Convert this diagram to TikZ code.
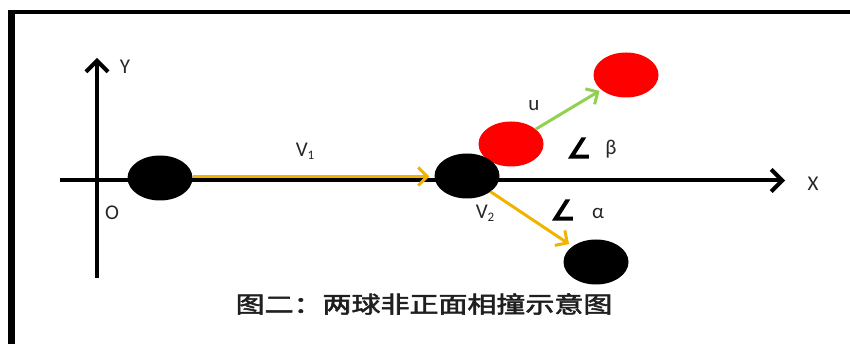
\documentclass[tikz,border=0pt]{standalone}
\usepackage{fontspec}
\setmainfont{Carlito}
\newfontfamily\djv{DejaVu Sans}[AutoFakeBold=5]
\newfontfamily\cjk{Noto Sans CJK SC}[AutoFakeBold=2.2]
\usetikzlibrary{arrows.meta,shapes.geometric}
\definecolor{vyellow}{RGB}{240,180,0}
\definecolor{ugreen}{RGB}{146,208,80}
\definecolor{bred}{RGB}{255,0,0}
\tikzset{
  ball/.style={ellipse,minimum width=65pt,minimum height=45pt,inner sep=0pt},
  blackball/.style={ball,fill=black},
  redball/.style={ball,fill=bred},
  axis/.style={line width=4pt,-{Straight Barb[length=11pt,width=22pt,line width=4pt]}},
  vel/.style={line width=3pt,color=vyellow,-{Straight Barb[length=9pt,width=18pt,line width=3pt]}},
  uvel/.style={line width=3pt,color=ugreen,-{Straight Barb[length=9pt,width=18pt,line width=3pt]}},
  lbl/.style={font=\fontsize{21}{21}\selectfont,text=black!85,inner sep=0pt},
  ang/.style={font=\djv\bfseries\fontsize{27}{27}\selectfont,inner sep=0pt},
}
\begin{document}
\begin{tikzpicture}[x=1pt,y=-1pt]
\useasboundingbox (0,0) rectangle (850,344);
% frame
\draw[line width=7pt] (11,344) -- (11,12);
\draw[line width=4.5pt] (8,12) -- (850,12);
% axes
\coordinate (xs) at (60,180.5);
\coordinate (xe) at (785,180.5);
\coordinate (ys) at (97,278);
\coordinate (ye) at (97,58);
\draw[axis] (xs) -- (xe);
\draw[axis] (ys) -- (ye);
\node[lbl] (ylab) at (125,67) {Y};
\node[lbl] (xlab) at (813,184) {X};
\node[lbl] (olab) at (112,213) {O};
% balls
\node[redball] (r1) at (511,144) {};
\node[redball] (r2) at (626,75) {};
\node[blackball] (b1) at (160,178) {};
\node[blackball] (b2) at (467,176) {};
\node[blackball] (b3) at (596,262) {};
% velocities
\draw[vel,shorten >=5pt] ([yshift=1.5pt]b1.east) -- ([yshift=-0.5pt]b2.west);
\draw[vel,shorten >=4pt] (b2) -- (b3);
\draw[uvel,shorten >=2pt] (r1) -- (r2);
% labels
\node[lbl] (v1) at (305,151) {V\raisebox{-0.3ex}{\fontsize{13}{13}\selectfont 1}};
\node[lbl] (v2) at (485,213) {V\raisebox{-0.3ex}{\fontsize{13}{13}\selectfont 2}};
\node[lbl] (ulab) at (534,106) {u};
\node[ang] (angb) at (579,148) {∠};
\node[lbl] (beta) at (611,149) {β};
\node[ang] (anga) at (563,210) {∠};
\node[lbl] (alpha) at (598,213) {α};
% caption
\node[inner sep=0pt,text=black!88,xscale=1.26] (cap) at (424,304) {\cjk\bfseries\fontsize{23}{23}\selectfont 图二：两球非正面相撞示意图};
\end{tikzpicture}
\end{document}
